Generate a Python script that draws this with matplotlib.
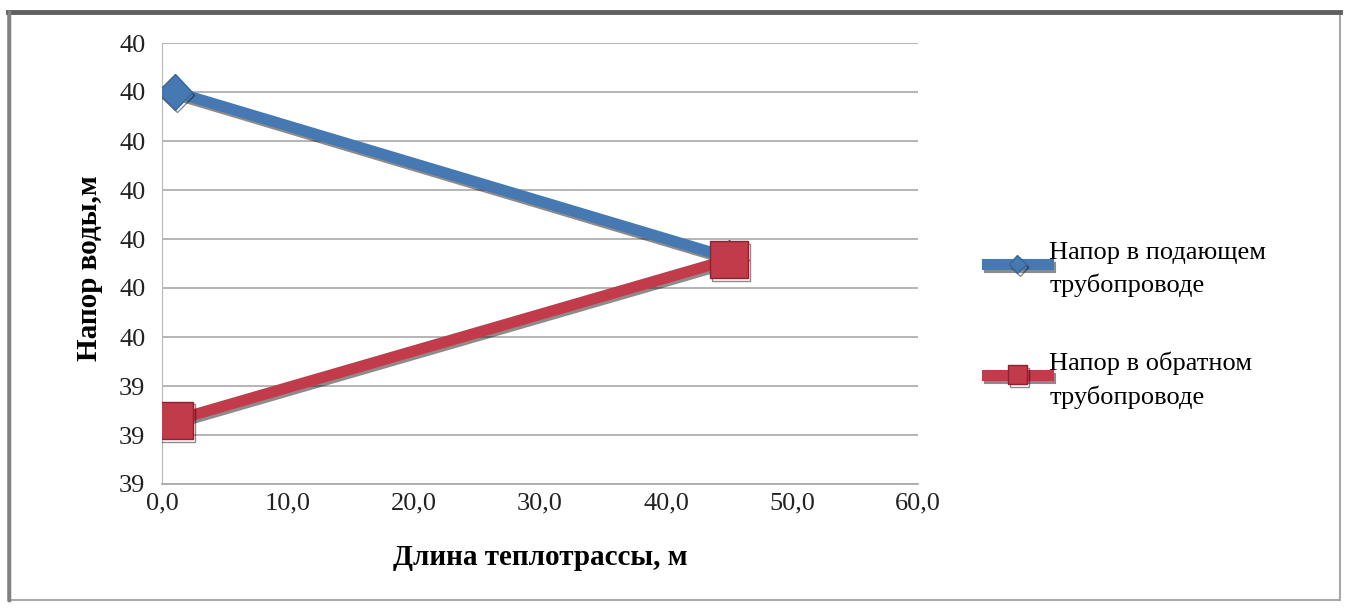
import math

import matplotlib
matplotlib.use("Agg")
import matplotlib.pyplot as plt
import matplotlib.patheffects as pe
from matplotlib.legend_handler import HandlerLine2D
from matplotlib.patches import Rectangle
from matplotlib.ticker import FuncFormatter

# data
length_m = [1.0, 45.0]
supply_head = [40.00, 39.662]
return_head = [39.33, 39.658]
supply_label = "Напор в подающем\nтрубопроводе"
return_label = "Напор в обратном\nтрубопроводе"
x_ticks = [0, 10, 20, 30, 40, 50, 60]
y_ticks = [39.2, 39.3, 39.4, 39.5, 39.6, 39.7, 39.8, 39.9, 40.0, 40.1]

W, H, DPI = 1346, 608, 100
BLUE = "#4679b2"
RED = "#c23b4b"


class FirstLineHandler(HandlerLine2D):
    """Put the legend sample level with the first line of a two-line label."""

    def create_artists(self, legend, orig_handle, xdescent, ydescent,
                       width, height, fontsize, trans):
        return super().create_artists(legend, orig_handle, xdescent,
                                      ydescent - 0.5 * height, width, height,
                                      fontsize, trans)


plt.rcParams["font.family"] = ["Liberation Serif", "DejaVu Serif"]

fig = plt.figure(figsize=(W / DPI, H / DPI), dpi=DPI)
fig.patch.set_facecolor("white")

# outer chart frame, darker and thicker on top and left
fig.add_artist(Rectangle((8 / W, 1 - 600 / H), 1332 / W, 588 / H,
                         transform=fig.transFigure, fill=False,
                         edgecolor="#a8a8a8", lw=1.5))
fig.add_artist(plt.Line2D([8 / W, 1340 / W], [1 - 12 / H] * 2,
                          transform=fig.transFigure, color="#606060", lw=3.5))
fig.add_artist(plt.Line2D([9 / W] * 2, [1 - 12 / H, 1 - 600 / H],
                          transform=fig.transFigure, color="#808080", lw=2.5))

left, right, top, bottom = 162, 918, 43, 484
ax = fig.add_axes([left / W, 1 - bottom / H, (right - left) / W, (bottom - top) / H])

shadow = [pe.SimpleLineShadow(offset=(1.5, -2), shadow_color="black", alpha=0.45), pe.Normal()]
supply_line, = ax.plot(length_m, supply_head, color=BLUE, lw=8, marker="D", markersize=18,
                       markerfacecolor=BLUE, markeredgecolor="#3a6698", markeredgewidth=1,
                       label=supply_label, zorder=3, path_effects=shadow)
return_line, = ax.plot(length_m, return_head, color=RED, lw=8, marker="s", markersize=27,
                       markerfacecolor=RED, markeredgecolor="#8e2030", markeredgewidth=1,
                       label=return_label, zorder=4, path_effects=shadow)

ax.set_xlim(0, 60)
ax.set_ylim(y_ticks[0], y_ticks[-1])
ax.set_xticks(x_ticks)
ax.set_yticks(y_ticks)
ax.xaxis.set_major_formatter(FuncFormatter(lambda v, p: f"{v:.1f}".replace(".", ",")))
ax.yaxis.set_major_formatter(FuncFormatter(lambda v, p: f"{math.floor(v + 0.5 + 1e-9):d}"))
ax.tick_params(axis="both", length=0, labelsize=19, colors="#222222")
ax.tick_params(axis="x", pad=6)
ax.tick_params(axis="y", pad=12)

ax.grid(axis="y", color="#a8a8a8", lw=1.2)
ax.set_axisbelow(True)
for side in ("top", "right"):
    ax.spines[side].set_visible(False)
ax.spines["left"].set_color("#b8b8b8")
ax.spines["bottom"].set_color("#a8a8a8")
ax.spines["bottom"].set_linewidth(1.2)

ax.set_xlabel("Длина теплотрассы, м", fontsize=21, fontweight="bold")
ax.set_ylabel("Напор воды,м", fontsize=21, fontweight="bold")
ax.xaxis.set_label_coords(0.5, -0.135)
ax.yaxis.set_label_coords(-0.078, 0.49)

leg = ax.legend(loc="center left", bbox_to_anchor=(1.06, 0.36), frameon=False,
                fontsize=19, handlelength=2.3, handletextpad=0.05,
                labelspacing=2.05, markerscale=0.5,
                handler_map={supply_line: FirstLineHandler(),
                             return_line: FirstLineHandler()})
for t in leg.get_texts():
    t.set_linespacing(1.55)

fig.savefig("out.png", dpi=DPI, facecolor="white")
